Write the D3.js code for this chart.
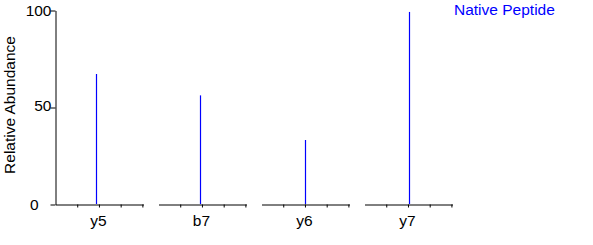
<!DOCTYPE html>
<html>
<head>
<meta charset="utf-8">
<script src="https://cdn.jsdelivr.net/npm/d3@7"></script>
<style>
body { margin: 0; background: #fff; }
svg { font-family: "Liberation Sans", Arial, sans-serif; }
</style>
</head>
<body>
<svg id="chart"></svg>
<script>
// fragment ions, their relative abundance and small m/z offset inside each window
var ions = ["y5", "b7", "y6", "y7"]
var abundance = [67, 56, 33, 99]
var mzOffset = [-0.11, -0.07, 0.02, 0.07]
var yTicks = [0, 50, 100]
var seriesName = "Native Peptide"

const W = 593, H = 245
const LEFT = 55, RIGHT = 452, TOP = 10, BOTTOM = 204
const BLUE = "#0000ff"

const svg = d3.select("#chart").attr("width", W).attr("height", H)

const yScale = d3.scaleLinear().domain([0, 100]).range([BOTTOM, TOP])

// one band per ion panel
const panel = d3.scaleBand().domain(ions).range([LEFT, RIGHT]).paddingInner(0.146)

// y axis
const yAxis = svg.append("g")
    .attr("transform", `translate(${LEFT + 0.5},0.5)`)
    .call(d3.axisLeft(yScale).tickValues(yTicks).tickSize(5).tickSizeOuter(0))
yAxis.select(".domain").attr("stroke", "#000")
yAxis.selectAll("text").attr("font-size", 15.5).attr("fill", "#000").attr("x", -4).attr("dy", "0.35em")
yAxis.selectAll(".tick").filter(d => d == 50).select("text").attr("dy", "0.2em")
yAxis.selectAll(".tick").filter(d => d == 0).select("text").attr("x", -17)

svg.append("text")
    .attr("transform", `translate(15,${(TOP + BOTTOM) / 2 - 2}) rotate(-90)`)
    .attr("text-anchor", "middle")
    .attr("font-size", 15.5)
    .text("Relative Abundance")

ions.forEach(function(ion, i){
    const x0 = panel(ion)
    const x = d3.scaleLinear().domain([-2, 2.05]).range([x0, x0 + panel.bandwidth()])
    const g = svg.append("g").attr("transform", `translate(0.5,${BOTTOM + 0.5})`)
    g.call(d3.axisBottom(x).tickValues([-1, 0, 1, 2]).tickFormat("").tickSize(3).tickSizeOuter(0))
    g.select(".domain").attr("stroke", "#000")

    const px = Math.round(x(mzOffset[i])) + 0.5
    svg.append("line")
        .attr("x1", px)
        .attr("x2", px)
        .attr("y1", BOTTOM)
        .attr("y2", yScale(abundance[i]))
        .attr("stroke", BLUE)
        .attr("stroke-width", 1.2)

    svg.append("text")
        .attr("x", x(0))
        .attr("y", 226)
        .attr("text-anchor", "middle")
        .attr("font-size", 15.5)
        .text(ion)
})

svg.append("text")
    .attr("x", 454)
    .attr("y", 15)
    .attr("font-size", 15.5)
    .attr("fill", BLUE)
    .text(seriesName)
</script>
</body>
</html>
